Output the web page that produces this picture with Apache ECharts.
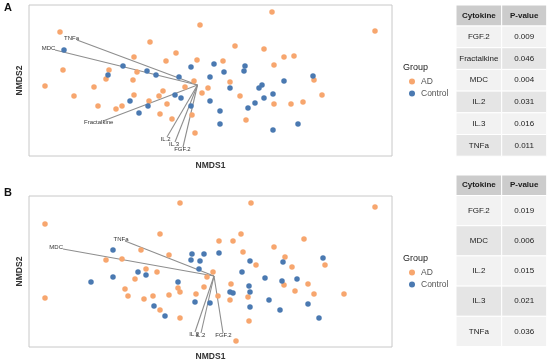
<!DOCTYPE html>
<html>
<head>
<meta charset="utf-8">
<script src="https://cdn.jsdelivr.net/npm/echarts@6/dist/echarts.min.js"></script>
<style>html,body{margin:0;padding:0;background:#fff}#c{width:550px;height:362px}</style>
</head>
<body>
<div id="c"></div>
<script>
// ---------- DATA ----------
// Panel A: NMDS scores
const panelA_AD = [[-1.50,0.48],[-0.60,0.38],[-0.76,0.23],[-0.34,0.27],[-0.44,0.19],[-0.10,0.55],[-1.47,0.10],[-1.01,0.10],[-1.04,0.01],[-0.73,0.08],[-0.77,0.00],[-1.65,-0.06],[-1.16,-0.07],[-1.36,-0.16],[-0.76,-0.15],[-0.47,-0.11],[-0.51,-0.16],[-0.61,-0.21],[-0.25,-0.07],[-0.16,-0.01],[-1.12,-0.26],[-0.94,-0.29],[-0.88,-0.26],[-0.43,-0.24],[-0.50,-0.34],[-0.38,-0.39],[-0.18,-0.35],[-0.15,-0.53],[0.62,0.68],[1.65,0.49],[0.25,0.34],[0.54,0.31],[0.74,0.23],[0.84,0.24],[-0.13,0.20],[0.13,0.19],[0.64,0.15],[0.20,-0.02],[-0.02,-0.08],[-0.08,-0.13],[1.04,0.00],[0.30,-0.16],[1.12,-0.15],[0.64,-0.24],[0.81,-0.24],[0.93,-0.22],[0.36,-0.40]];
const panelA_Control = [[-1.46,0.30],[-0.87,0.14],[-0.63,0.09],[-0.54,0.05],[-1.02,0.05],[-0.31,0.03],[-0.19,0.13],[-0.35,-0.15],[-0.29,-0.18],[-0.80,-0.21],[-0.62,-0.26],[-0.71,-0.33],[-0.19,-0.26],[0.04,0.16],[0.35,0.14],[0.34,0.09],[0.14,0.08],[0.00,0.03],[1.03,0.04],[0.74,-0.01],[0.52,-0.05],[0.49,-0.08],[0.20,-0.08],[0.63,-0.14],[0.54,-0.18],[0.00,-0.21],[0.45,-0.23],[0.38,-0.28],[0.10,-0.31],[0.10,-0.44],[0.88,-0.44],[0.63,-0.50]];
const panelA_vectorNames = ['TNFa','MDC','Fractalkine','IL.2','IL.3','FGF.2'];
const panelA_vectorOrigin = [-0.125,-0.05];
const panelA_vectorEnds = [[-1.33,0.40],[-1.55,0.30],[-1.07,-0.41],[-0.43,-0.57],[-0.35,-0.62],[-0.27,-0.67]];

// Panel B: NMDS scores
const panelB_AD = [[-0.30,0.68],[-1.65,0.47],[-0.50,0.37],[-0.69,0.21],[-0.41,0.16],[-1.04,0.11],[-0.88,0.12],[-0.64,0.02],[-0.53,-0.01],[-0.75,-0.08],[-0.85,-0.18],[-0.82,-0.25],[-0.66,-0.28],[-0.57,-0.25],[-0.41,-0.24],[-0.32,-0.17],[-0.30,-0.21],[-0.14,-0.23],[-1.65,-0.27],[-0.50,-0.39],[-0.30,-0.47],[0.41,0.68],[1.65,0.64],[0.31,0.37],[0.09,0.30],[0.23,0.30],[0.94,0.32],[0.64,0.24],[0.33,0.19],[0.75,0.14],[0.46,0.06],[0.82,0.04],[1.15,0.06],[0.03,-0.01],[-0.03,-0.06],[0.21,-0.13],[-0.06,-0.16],[0.74,-0.14],[0.98,-0.13],[0.85,-0.20],[1.04,-0.23],[1.34,-0.23],[0.08,-0.25],[0.20,-0.29],[0.38,-0.26],[0.39,-0.50],[0.26,-0.70]];
const panelB_Control = [[-0.97,0.21],[-0.18,0.17],[-0.19,0.11],[-0.10,0.10],[-0.11,0.02],[-0.72,-0.01],[-0.64,-0.04],[-0.97,-0.06],[-1.19,-0.11],[-0.32,-0.11],[-0.15,-0.31],[-0.56,-0.35],[-0.45,-0.45],[-0.06,0.17],[0.09,0.18],[0.40,0.10],[0.73,0.09],[1.13,0.13],[0.32,-0.01],[0.55,-0.07],[0.72,-0.10],[0.87,-0.08],[0.39,-0.15],[0.20,-0.21],[0.23,-0.22],[0.40,-0.21],[0.00,-0.32],[0.40,-0.36],[0.59,-0.29],[0.98,-0.33],[0.70,-0.39],[1.09,-0.47]];
const panelB_vectorNames = ['MDC','TNFa','IL.3','IL.2','FGF.2'];
const panelB_vectorOrigin = [0.04,-0.05];
const panelB_vectorEnds = [[-1.47,0.22],[-0.85,0.30],[-0.15,-0.61],[-0.09,-0.62],[0.13,-0.62]];

// Tables
const tableHeader = ['Cytokine','P-value'];
const tableA_cytokine = ['FGF.2','Fractalkine','MDC','IL.2','IL.3','TNFa'];
const tableA_pvalue = ['0.009','0.046','0.004','0.031','0.016','0.011'];
const tableB_cytokine = ['FGF.2','MDC','IL.2','IL.3','TNFa'];
const tableB_pvalue = ['0.019','0.006','0.015','0.021','0.036'];

const groupNames = ['AD','Control'];

// ---------- STYLE ----------
const FONT = '"Liberation Sans", Arial, sans-serif';
const COL_AD = '#F7A66E';
const COL_CTRL = '#4A79B1';
const xRange = [-1.81, 1.82];
const yRange = [-0.76, 0.75];

function vectorData(origin, ends, names) {
  return ends.map((e, i) => [origin[0], origin[1], e[0], e[1], names[i]]);
}
function renderVector(params, api) {
  const o = api.coord([api.value(0), api.value(1)]);
  const e = api.coord([api.value(2), api.value(3)]);
  const name = api.value(4);
  const k = 1.045;
  const lx = o[0] + (e[0] - o[0]) * k;
  const ly = o[1] + (e[1] - o[1]) * k;
  return {
    type: 'group',
    children: [
      {type: 'line', shape: {x1: o[0], y1: o[1], x2: e[0], y2: e[1]},
       style: {stroke: '#8e8e8e', lineWidth: 1.1}},
      {type: 'text', x: lx, y: ly,
       style: {text: name, fontSize: 6, fill: '#333', align: 'center', verticalAlign: 'middle', fontFamily: FONT}}
    ]
  };
}

function tableGraphics(x, y, colW, headH, rowH, cyt, pv) {
  const els = [];
  const grey95 = '#F2F2F2', grey90 = '#E5E5E5', grey80 = '#CCCCCC';
  let cx = x;
  tableHeader.forEach((h, j) => {
    els.push({type: 'rect', shape: {x: cx, y: y, width: colW[j], height: headH},
      style: {fill: grey80, stroke: '#fff', lineWidth: 1}});
    els.push({type: 'text', x: cx + colW[j] / 2, y: y + headH / 2,
      style: {text: h, fontSize: 8, fontWeight: 'bold', fill: '#1a1a1a', align: 'center', verticalAlign: 'middle', fontFamily: FONT}});
    cx += colW[j];
  });
  cyt.forEach((c, i) => {
    const ry = y + headH + i * rowH;
    const vals = [c, pv[i]];
    let cx2 = x;
    vals.forEach((v, j) => {
      els.push({type: 'rect', shape: {x: cx2, y: ry, width: colW[j], height: rowH},
        style: {fill: i % 2 === 0 ? grey95 : grey90, stroke: '#fff', lineWidth: 1}});
      els.push({type: 'text', x: cx2 + colW[j] / 2, y: ry + rowH / 2,
        style: {text: v, fontSize: 8, fill: '#222', align: 'center', verticalAlign: 'middle', fontFamily: FONT}});
      cx2 += colW[j];
    });
  });
  return els;
}

const chart = echarts.init(document.getElementById('c'), null, {renderer: 'canvas'});

function axisX(gi) {
  return {gridIndex: gi, type: 'value', min: xRange[0], max: xRange[1],
    name: 'NMDS1', nameLocation: 'middle', nameGap: 5,
    nameTextStyle: {fontSize: 8.5, fontWeight: 'bold', color: '#333', fontFamily: FONT, verticalAlign: 'top'},
    axisLine: {show: false}, axisTick: {show: false}, axisLabel: {show: false}, splitLine: {show: false}};
}
function axisY(gi) {
  return {gridIndex: gi, type: 'value', min: yRange[0], max: yRange[1],
    name: 'NMDS2', nameLocation: 'middle', nameGap: 5, nameRotate: 90,
    nameTextStyle: {fontSize: 8.5, fontWeight: 'bold', color: '#333', fontFamily: FONT},
    axisLine: {show: false}, axisTick: {show: false}, axisLabel: {show: false}, splitLine: {show: false}};
}
function scatter(name, data, gi, color) {
  return {name: name, type: 'scatter', xAxisIndex: gi, yAxisIndex: gi, data: data,
    symbolSize: 5.5, itemStyle: {color: color, opacity: 1}, z: 3, silent: true};
}

const option = {
  animation: false,
  backgroundColor: '#fff',
  grid: [
    {left: 29, top: 5, width: 363, height: 151, show: true, borderColor: '#c8c8c8', borderWidth: 1, backgroundColor: 'transparent'},
    {left: 29, top: 196, width: 363, height: 151, show: true, borderColor: '#c8c8c8', borderWidth: 1, backgroundColor: 'transparent'}
  ],
  xAxis: [axisX(0), axisX(1)],
  yAxis: [axisY(0), axisY(1)],
  legend: [
    {data: groupNames, orient: 'vertical', left: 404, top: 72, itemWidth: 6, itemHeight: 6, itemGap: 3,
     icon: 'circle', selectedMode: false, textStyle: {fontSize: 8.5, color: '#555', fontFamily: FONT, padding: [0, 0, 0, 1]}},
    {data: groupNames, orient: 'vertical', left: 404, top: 263, itemWidth: 6, itemHeight: 6, itemGap: 3,
     icon: 'circle', selectedMode: false, textStyle: {fontSize: 8.5, color: '#555', fontFamily: FONT, padding: [0, 0, 0, 1]}}
  ],
  graphic: [
    {type: 'text', left: 4, top: 2, style: {text: 'A', fontSize: 11, fontWeight: 'bold', fill: '#111', fontFamily: FONT}},
    {type: 'text', left: 4, top: 187, style: {text: 'B', fontSize: 11, fontWeight: 'bold', fill: '#111', fontFamily: FONT}},
    {type: 'text', left: 403, top: 63, style: {text: 'Group', fontSize: 9, fill: '#222', fontFamily: FONT}},
    {type: 'text', left: 403, top: 254, style: {text: 'Group', fontSize: 9, fill: '#222', fontFamily: FONT}}
  ].concat(
    tableGraphics(456, 5, [45.7, 45], 21, 21.7, tableA_cytokine, tableA_pvalue),
    tableGraphics(456, 175, [45.7, 45], 20.5, 30.2, tableB_cytokine, tableB_pvalue)
  ),
  series: [
    {type: 'custom', xAxisIndex: 0, yAxisIndex: 0, renderItem: renderVector, clip: false, z: 2, silent: true,
     encode: {x: [0, 2], y: [1, 3]}, data: vectorData(panelA_vectorOrigin, panelA_vectorEnds, panelA_vectorNames)},
    {type: 'custom', xAxisIndex: 1, yAxisIndex: 1, renderItem: renderVector, clip: false, z: 2, silent: true,
     encode: {x: [0, 2], y: [1, 3]}, data: vectorData(panelB_vectorOrigin, panelB_vectorEnds, panelB_vectorNames)},
    scatter('AD', panelA_AD, 0, COL_AD),
    scatter('Control', panelA_Control, 0, COL_CTRL),
    scatter('AD', panelB_AD, 1, COL_AD),
    scatter('Control', panelB_Control, 1, COL_CTRL)
  ]
};
chart.setOption(option);
</script>
</body>
</html>
